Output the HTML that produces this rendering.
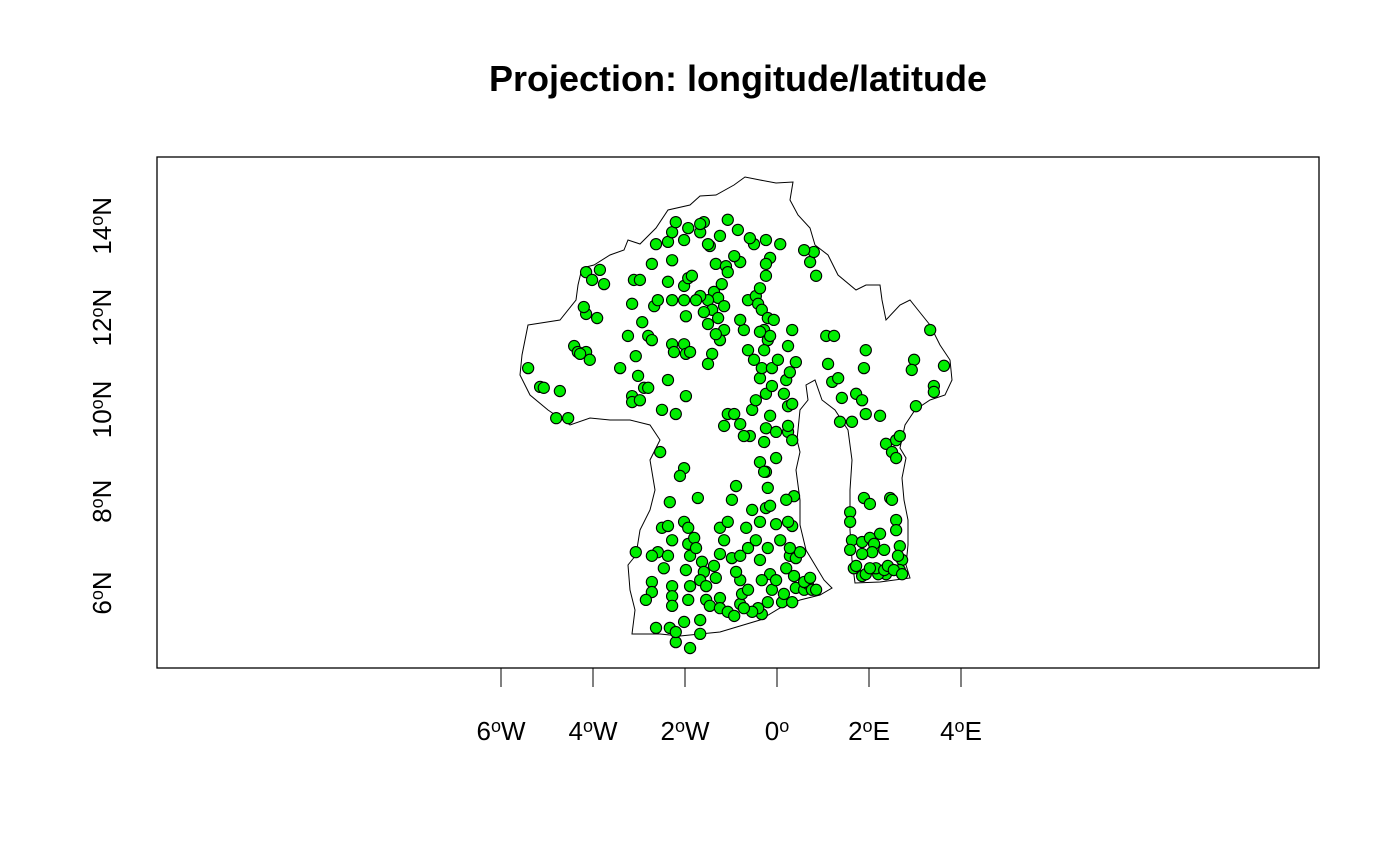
<!DOCTYPE html>
<html>
<head>
<meta charset="utf-8">
<style>
  html,body{margin:0;padding:0;background:#fff;}
  svg{display:block;font-family:"Liberation Sans",Arial,sans-serif;}
</style>
</head>
<body>
<svg id="chart" width="1400" height="866" viewBox="0 0 1400 866" xmlns="http://www.w3.org/2000/svg">
  <rect x="0" y="0" width="1400" height="866" fill="#fff"/>
  <text x="738" y="91" text-anchor="middle" font-size="36" font-weight="bold">Projection: longitude/latitude</text>
  <rect x="157" y="157" width="1162" height="511" fill="none" stroke="#000" stroke-width="1.3"/>
  <path fill="none" stroke="#000" stroke-width="1"
    d="M528,325 L560,320 L576,300 L578,285 L582,268 L594,265 L610,255 L624,250 L628,240 L640,244 L656,228 L668,210 L690,205 L700,196 L716,195 L734,185 L745,177 L760,180 L776,183 L793,182 L790,200 L798,215 L810,228 L815,245 L828,255 L838,275 L856,290 L866,285 L880,285 L882,300 L886,320 L900,305 L910,300 L918,310 L930,325 L940,345 L950,360 L952,380 L945,395 L930,400 L915,410 L905,425 L900,448 L906,458 L902,478 L904,500 L908,520 L908,545 L906,565 L910,578 L880,582 L855,583 L852,560 L850,530 L850,490 L852,460 L848,430 L835,410 L822,400 L815,380 L806,385 L808,400 L800,410 L797,440 L800,452 L796,470 L800,500 L800,525 L806,550 L815,565 L824,580 L832,588 L820,595 L800,600 L780,608 L760,620 L740,626 L720,632 L700,634 L680,636 L660,634 L632,634 L635,610 L630,590 L628,565 L636,555 L640,530 L650,510 L655,490 L650,460 L660,440 L650,425 L630,420 L610,420 L590,418 L570,425 L548,410 L530,395 L520,375 L522,355 Z"/>
  <g id="axes"></g>
  <g id="points"></g>
</svg>
<script>
const xTickValues = [-6, -4, -2, 0, 2, 4];
const xTickNums = ["6", "4", "2", "0", "2", "4"];
const xTickDirs = ["W", "W", "W", "", "E", "E"];
const yTickValues = [6, 8, 10, 12, 14];
const yTickNums = ["6", "8", "10", "12", "14"];
const yTickDirs = ["N", "N", "N", "N", "N"];

const lons = [
-5.41,-5.15,-5.07,-4.72,-4.80,-4.54,-4.41,-4.33,-4.15,-4.07,-4.28,-4.15,-4.20,-3.91,-4.15,-4.02,-3.85,-3.76,
-3.41,-3.24,-3.15,-3.11,-2.98,-3.07,-3.02,-2.89,-3.15,-3.15,-2.98,-2.80,-2.93,-2.80,-2.72,-2.67,-2.59,-2.72,
-2.63,-2.37,-2.28,-2.20,-2.02,-1.93,-2.28,-2.37,-2.28,-2.02,-1.93,-1.85,-2.02,-1.98,-1.67,-1.59,-1.46,-1.33,
-1.37,-1.28,-1.50,-1.41,-1.50,-1.59,-1.67,-1.76,-2.28,-2.02,-1.98,-2.24,-1.89,-2.37,-1.98,-2.50,-2.20,-2.54,
-2.02,-2.11,-1.72,-2.33,-2.50,-2.37,-2.28,-2.59,-2.37,-2.46,-3.07,-2.72,-2.72,-2.72,-2.85,-2.28,-2.28,-2.28,
-2.63,-2.33,-2.02,-2.20,-1.89,-2.20,-1.67,-1.67,-1.93,-1.89,-1.98,-1.89,-1.93,-2.02,-1.93,-1.80,-1.76,-1.63,
-1.59,-1.67,-1.54,-1.54,-1.46,-1.24,-1.33,-1.37,-1.24,-1.15,-1.24,-1.07,-0.98,-0.89,-1.24,-1.07,-0.93,-0.80,
-0.76,-0.63,-0.80,-0.89,-0.98,-0.80,-0.63,-0.67,-0.54,-0.46,-0.37,-0.24,-0.20,-0.24,-0.37,-0.59,-0.72,-0.80,
-1.07,-0.93,-1.15,-0.54,-0.46,-0.24,-0.11,0.20,0.15,-0.37,-0.33,-0.11,-0.50,-0.63,-0.72,-0.80,-0.63,-0.46,
-0.37,-0.24,-0.15,0.07,-0.24,-0.50,-0.59,-0.24,-0.80,-0.93,-1.11,-1.15,-1.28,-1.15,-1.24,-1.41,-1.50,-1.33,
-1.20,-1.07,-0.85,-1.07,-1.67,-1.50,-1.24,-0.41,-0.33,-0.20,-0.07,-0.28,-0.20,-0.15,-0.37,-0.28,0.02,-0.15,
-0.24,-0.28,-0.02,-0.28,-0.02,0.24,0.33,0.24,-0.15,-0.02,0.07,-0.20,-0.37,-0.15,-0.33,-0.11,-0.20,-0.33,
-0.41,-0.54,-0.72,0.11,0.15,-0.02,0.28,0.41,0.50,0.20,0.37,0.41,0.59,0.67,0.76,0.85,0.59,0.72,0.33,0.28,
0.33,0.24,0.37,0.20,0.33,0.24,0.28,0.24,0.41,0.33,0.72,0.80,0.85,0.59,
1.07,1.24,1.11,1.20,1.33,1.41,1.37,1.63,1.72,1.85,1.93,1.89,1.93,2.24,2.37,2.50,2.59,2.59,2.67,2.98,2.93,
3.02,3.33,3.41,3.41,3.63,1.59,1.59,1.63,1.59,1.67,1.85,1.93,1.85,1.89,2.02,2.02,2.11,2.07,2.24,2.33,2.37,
2.20,2.46,2.50,2.59,2.59,2.67,2.72,2.67,2.15,2.33,1.85,1.72,2.02,2.41,2.54,2.63,2.72
];
const lats = [
10.90,10.49,10.47,10.40,9.81,9.81,11.38,11.25,11.25,11.08,11.21,12.08,12.23,11.99,12.99,12.82,13.04,12.73,
10.90,11.60,12.30,12.82,12.82,11.16,10.73,10.47,10.29,10.16,10.20,10.47,11.90,11.60,11.51,12.25,12.38,13.17,
13.60,13.65,13.86,14.08,13.69,13.95,13.25,12.78,12.38,12.69,12.86,12.91,12.38,12.03,13.86,14.08,13.56,13.17,
12.56,12.43,12.38,12.17,11.86,12.12,12.47,12.38,11.42,11.42,11.21,11.25,11.25,10.64,10.29,9.99,9.90,9.07,
8.72,8.55,8.07,7.98,7.42,7.46,7.15,6.89,6.81,6.54,6.89,6.81,6.24,6.02,5.85,6.15,5.93,5.72,
5.24,5.24,5.37,4.93,4.80,5.15,5.41,5.11,5.85,6.15,6.50,6.81,7.07,7.55,7.42,7.20,6.98,6.68,
6.46,6.28,6.15,5.85,5.72,5.89,6.33,6.59,6.85,7.15,7.42,7.55,8.03,8.33,5.67,5.59,5.50,5.76,
5.98,6.07,6.28,6.46,6.76,6.81,6.98,7.42,7.81,7.15,7.55,7.85,8.29,8.64,8.85,9.42,9.42,9.68,
9.90,9.90,9.64,9.99,10.20,10.34,10.51,10.64,10.34,10.68,10.90,10.90,11.08,11.29,11.73,11.95,12.38,12.47,
12.64,12.91,13.30,13.60,13.69,13.60,13.73,13.17,13.21,13.34,13.12,12.25,11.99,11.73,11.51,11.21,10.99,11.64,
12.73,12.99,13.91,14.13,14.04,13.60,13.78,12.30,12.17,11.99,11.95,11.73,11.51,11.60,11.69,11.29,11.08,9.86,
9.59,9.29,9.51,8.64,8.94,9.51,9.33,10.07,7.90,7.50,7.15,6.98,6.72,6.41,6.28,6.07,5.80,5.54,
5.67,5.59,5.67,5.80,5.98,6.28,6.81,6.76,6.89,6.54,6.37,6.11,6.07,6.20,6.07,6.07,6.24,6.33,5.80,6.98,
7.46,7.55,8.11,8.03,10.12,9.64,10.81,11.38,11.03,11.73,13.21,13.43,12.91,13.47,
11.60,11.60,10.99,10.60,10.68,10.25,9.73,9.73,10.34,10.20,9.90,10.90,11.29,9.86,9.25,9.07,8.94,9.33,9.42,11.08,10.86,
10.07,11.73,10.51,10.38,10.95,7.76,7.55,7.15,6.94,6.54,6.37,6.41,7.11,8.07,7.94,7.20,7.07,6.89,7.29,6.94,6.41,
6.41,8.07,8.03,7.59,7.37,7.02,6.72,6.50,6.54,6.50,6.85,6.59,6.54,6.59,6.50,6.81,6.41
];

const NS = "http://www.w3.org/2000/svg";
function xScale(lon){ return 777 + 46 * lon; }
function yScale(lat){ return 593 - 45.9 * (lat - 6); }

function fillDegreeLabel(el, num, dir){
  const a = document.createElementNS(NS, "tspan");
  a.textContent = num;
  el.appendChild(a);
  const b = document.createElementNS(NS, "tspan");
  b.setAttribute("font-size", "18");
  b.setAttribute("dy", "-8");
  b.textContent = "o";
  el.appendChild(b);
  const c = document.createElementNS(NS, "tspan");
  c.setAttribute("dy", "8");
  c.textContent = dir === "" ? "\u200B" : dir;
  el.appendChild(c);
}

const axes = document.getElementById("axes");
const xAxisLine = document.createElementNS(NS, "line");
xAxisLine.setAttribute("x1", xScale(xTickValues[0]));
xAxisLine.setAttribute("x2", xScale(xTickValues[xTickValues.length-1]));
xAxisLine.setAttribute("y1", 668); xAxisLine.setAttribute("y2", 668);
xAxisLine.setAttribute("stroke", "#000");


axes.appendChild(xAxisLine);
xTickValues.forEach((v, i) => {
  const x = xScale(v);
  const t = document.createElementNS(NS, "line");
  t.setAttribute("x1", x); t.setAttribute("x2", x);
  t.setAttribute("y1", 668); t.setAttribute("y2", 687);
  t.setAttribute("stroke", "#000");
  
  
  axes.appendChild(t);
  const lb = document.createElementNS(NS, "text");
  lb.setAttribute("x", x); lb.setAttribute("y", 740);
  lb.setAttribute("text-anchor", "middle");
  lb.setAttribute("font-size", "26");
  fillDegreeLabel(lb, xTickNums[i], xTickDirs[i]);
  
  
  axes.appendChild(lb);
});
yTickValues.forEach((v, i) => {
  const y = yScale(v);
  const lb = document.createElementNS(NS, "text");
  lb.setAttribute("x", 0); lb.setAttribute("y", 0);
  lb.setAttribute("text-anchor", "middle");
  lb.setAttribute("font-size", "26");
  lb.setAttribute("transform", "translate(111," + y + ") rotate(-90)");
  fillDegreeLabel(lb, yTickNums[i], yTickDirs[i]);
  
  
  axes.appendChild(lb);
});

const pts = document.getElementById("points");
for (let i = 0; i < lons.length; i++) {
  const c = document.createElementNS(NS, "circle");
  c.setAttribute("cx", xScale(lons[i]));
  c.setAttribute("cy", yScale(lats[i]));
  c.setAttribute("r", 5.6);
  c.setAttribute("fill", "#00ee00");
  c.setAttribute("stroke", "#000");
  c.setAttribute("stroke-width", "1.1");
  
  
  pts.appendChild(c);
}
</script>
</body>
</html>
